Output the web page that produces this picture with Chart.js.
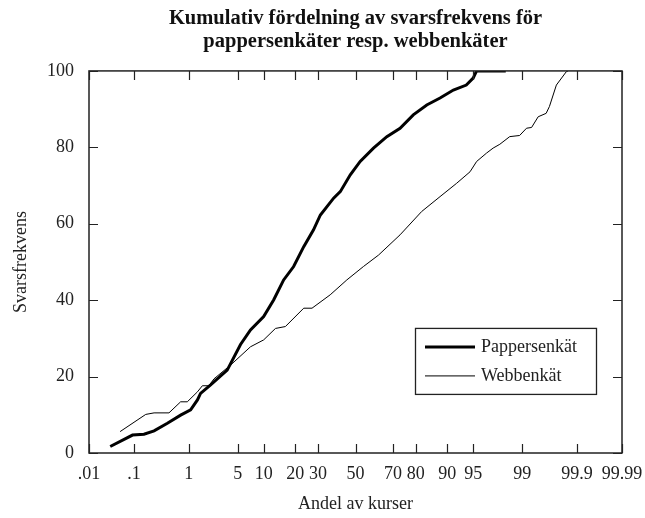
<!DOCTYPE html>
<html>
<head>
<meta charset="utf-8">
<script src="https://cdn.jsdelivr.net/npm/chart.js@4.4.1/dist/chart.umd.min.js"></script>
<style>
html,body{margin:0;padding:0;background:#fff;overflow:hidden;}
#c{display:block;width:645px;height:518px;}
</style>
</head>
<body>
<canvas id="c" width="645" height="518"></canvas>
<script>
// ---- data ----
const titleLines = ['Kumulativ fördelning av svarsfrekvens för', 'pappersenkäter resp. webbenkäter'];
const xTitle = 'Andel av kurser';
const yTitle = 'Svarsfrekvens';
const seriesNames = ['Pappersenkät', 'Webbenkät'];

const tickPercents = [0.01, 0.1, 1, 5, 10, 20, 30, 50, 70, 80, 90, 95, 99, 99.9, 99.99];
const tickLabels = ['.01', '.1', '1', '5', '10', '20', '30', '50', '70', '80', '90', '95', '99', '99.9', '99.99'];
const yTicks = [0, 20, 40, 60, 80, 100];

// Pappersenkät: share of courses (%) and response rate
const paperPct = [0.031, 0.093, 0.158, 0.247, 0.433, 0.734, 1.07, 1.37, 1.53, 2.16, 3.67, 5.43, 7.14, 10.0, 12.7, 15.8, 19.4, 23.5, 27.9, 31.2, 38.0, 41.6, 47.1, 52.6, 59.9, 66.9, 73.3, 79.0, 84.0, 88.1, 91.4, 93.9, 94.97, 95.45, 98.2];
const paperRate = [1.7, 4.7, 4.9, 5.8, 7.8, 9.9, 11.3, 13.9, 15.6, 17.8, 21.7, 28.4, 32.2, 35.7, 40.1, 45.3, 48.8, 54.0, 58.4, 62.3, 66.7, 68.4, 72.8, 76.3, 79.8, 82.8, 85.0, 88.5, 91.1, 92.9, 95.0, 96.3, 98.1, 100, 100];

// Webbenkät
const webPct = [0.051, 0.171, 0.247, 0.462, 0.734, 0.946, 1.37, 1.63, 2.04, 2.41, 4.06, 7.14, 10.0, 13.2, 16.4, 23.5, 27.2, 36.2, 45.2, 54.4, 62.6, 73.3, 82.2, 88.1, 92.1, 94.5, 95.45, 96.63, 97.26, 97.80, 98.43, 98.90, 99.15, 99.30, 99.46, 99.61, 99.66, 99.747, 99.837, 99.85];
const webRate = [5.6, 10.1, 10.5, 10.5, 13.4, 13.4, 16.0, 17.6, 17.6, 19.4, 23.0, 27.8, 29.6, 32.6, 33.1, 37.9, 37.9, 41.4, 45.3, 48.8, 51.8, 57.1, 63.2, 67.1, 70.6, 73.6, 76.3, 78.5, 79.8, 80.8, 82.8, 83.1, 85.0, 85.2, 88.0, 88.9, 90.7, 96.3, 99.8, 100];

// ---- normal probability (probit) transform for the x axis ----
function probit(p) {
  const a = [-3.969683028665376e+01, 2.209460984245205e+02, -2.759285104469687e+02, 1.383577518672690e+02, -3.066479806614716e+01, 2.506628277459239e+00];
  const b = [-5.447609879822406e+01, 1.615858368580409e+02, -1.556989798598866e+02, 6.680131188771972e+01, -1.328068155288572e+01];
  const c = [-7.784894002430293e-03, -3.223964580411365e-01, -2.400758277161838e+00, -2.549732539343734e+00, 4.374664141464968e+00, 2.938163982698783e+00];
  const d = [7.784695709041462e-03, 3.224671290700398e-01, 2.445134137142996e+00, 3.754408661907416e+00];
  const plow = 0.02425, phigh = 1 - plow;
  let q, r;
  if (p < plow) {
    q = Math.sqrt(-2 * Math.log(p));
    return (((((c[0]*q+c[1])*q+c[2])*q+c[3])*q+c[4])*q+c[5]) / ((((d[0]*q+d[1])*q+d[2])*q+d[3])*q+1);
  }
  if (p <= phigh) {
    q = p - 0.5; r = q * q;
    return (((((a[0]*r+a[1])*r+a[2])*r+a[3])*r+a[4])*r+a[5])*q / (((((b[0]*r+b[1])*r+b[2])*r+b[3])*r+b[4])*r+1);
  }
  q = Math.sqrt(-2 * Math.log(1 - p));
  return -(((((c[0]*q+c[1])*q+c[2])*q+c[3])*q+c[4])*q+c[5]) / ((((d[0]*q+d[1])*q+d[2])*q+d[3])*q+1);
}
const toZ = pct => probit(pct / 100);
const tickZ = tickPercents.map(toZ);

const paperPts = paperPct.map((p, i) => ({ x: toZ(p), y: paperRate[i] }));
const webPts = webPct.map((p, i) => ({ x: toZ(p), y: webRate[i] }));

const FONT = 'Liberation Serif, "Times New Roman", Times, serif';
const TXT = '#222';

// frame with inward ticks on all four sides
const framePlugin = {
  id: 'frame',
  afterDraw(chart) {
    const { ctx, chartArea: ca, scales } = chart;
    ctx.save();
    ctx.strokeStyle = '#222';
    ctx.lineWidth = 1.5;
    ctx.strokeRect(ca.left, ca.top, ca.right - ca.left, ca.bottom - ca.top);
    ctx.lineWidth = 1.2;
    const L = 9;
    ctx.beginPath();
    scales.x.ticks.forEach(t => {
      const px = Math.round(scales.x.getPixelForValue(t.value)) + 0.5;
      ctx.moveTo(px, ca.bottom); ctx.lineTo(px, ca.bottom - L);
      ctx.moveTo(px, ca.top); ctx.lineTo(px, ca.top + L);
    });
    scales.y.ticks.forEach(t => {
      const py = Math.round(scales.y.getPixelForValue(t.value)) + 0.5;
      ctx.moveTo(ca.left, py); ctx.lineTo(ca.left + L, py);
      ctx.moveTo(ca.right, py); ctx.lineTo(ca.right - L, py);
    });
    ctx.stroke();
    ctx.restore();
  }
};

// boxed legend inside the plot area
const boxLegendPlugin = {
  id: 'boxLegend',
  afterDraw(chart) {
    const { ctx, chartArea: ca } = chart;
    const bx = ca.right - 207, by = ca.top + 257, bw = 181, bh = 66;
    ctx.save();
    ctx.fillStyle = '#fff';
    ctx.fillRect(bx, by, bw, bh);
    ctx.strokeStyle = '#222';
    ctx.lineWidth = 1.3;
    ctx.strokeRect(bx + 0.5, by + 0.5, bw, bh);
    ctx.font = '18px ' + FONT;
    ctx.textBaseline = 'middle';
    ctx.fillStyle = TXT;
    chart.data.datasets.forEach((ds, i) => {
      const y = by + 19 + i * 29;
      ctx.strokeStyle = '#000';
      ctx.lineWidth = ds.borderWidth;
      ctx.beginPath();
      ctx.moveTo(bx + 10, y); ctx.lineTo(bx + 60, y);
      ctx.stroke();
      ctx.fillText(ds.label, bx + 66, y);
    });
    ctx.restore();
  }
};

new Chart(document.getElementById('c'), {
  type: 'line',
  data: {
    datasets: [
      { label: seriesNames[0], data: paperPts, borderColor: '#000', borderWidth: 3, pointRadius: 0, tension: 0, fill: false },
      { label: seriesNames[1], data: webPts, borderColor: '#000', borderWidth: 1, pointRadius: 0, tension: 0, fill: false }
    ]
  },
  options: {
    responsive: false,
    animation: false,
    devicePixelRatio: 1,
    layout: { padding: { left: 0, right: 23, top: 0, bottom: 0 } },
    plugins: {
      legend: { display: false },
      tooltip: { enabled: false },
      title: {
        display: true,
        text: titleLines,
        fullSize: false,
        color: '#111',
        font: { family: FONT, size: 20.5, weight: 'bold', lineHeight: 1.12 },
        padding: { top: 7, bottom: 18 }
      }
    },
    scales: {
      x: {
        type: 'linear',
        min: toZ(tickPercents[0]),
        max: toZ(tickPercents[tickPercents.length - 1]),
        afterBuildTicks: s => { s.ticks = tickZ.map(v => ({ value: v })); },
        afterFit: s => { s.height = 65; s.paddingLeft = 0; s.paddingRight = 0; },
        grid: { display: false, drawTicks: false },
        border: { display: false },
        ticks: {
          autoSkip: false, maxRotation: 0, minRotation: 0,
          callback: (v, i) => tickLabels[i],
          color: TXT, font: { family: FONT, size: 18 }, padding: 10
        },
        title: { display: true, text: xTitle, color: TXT, font: { family: FONT, size: 18 }, padding: { top: 0, bottom: 3 } }
      },
      y: {
        min: 0, max: 100,
        afterBuildTicks: s => { s.ticks = yTicks.map(v => ({ value: v })); },
        afterFit: s => { s.width = 89; s.paddingTop = 0; s.paddingBottom = 0; },
        grid: { display: false, drawTicks: false },
        border: { display: false },
        ticks: { color: TXT, font: { family: FONT, size: 18 }, padding: 15 },
        title: { display: true, text: yTitle, color: TXT, font: { family: FONT, size: 18 }, padding: { top: 10, bottom: 0 } }
      }
    }
  },
  plugins: [framePlugin, boxLegendPlugin]
});
</script>
</body>
</html>
